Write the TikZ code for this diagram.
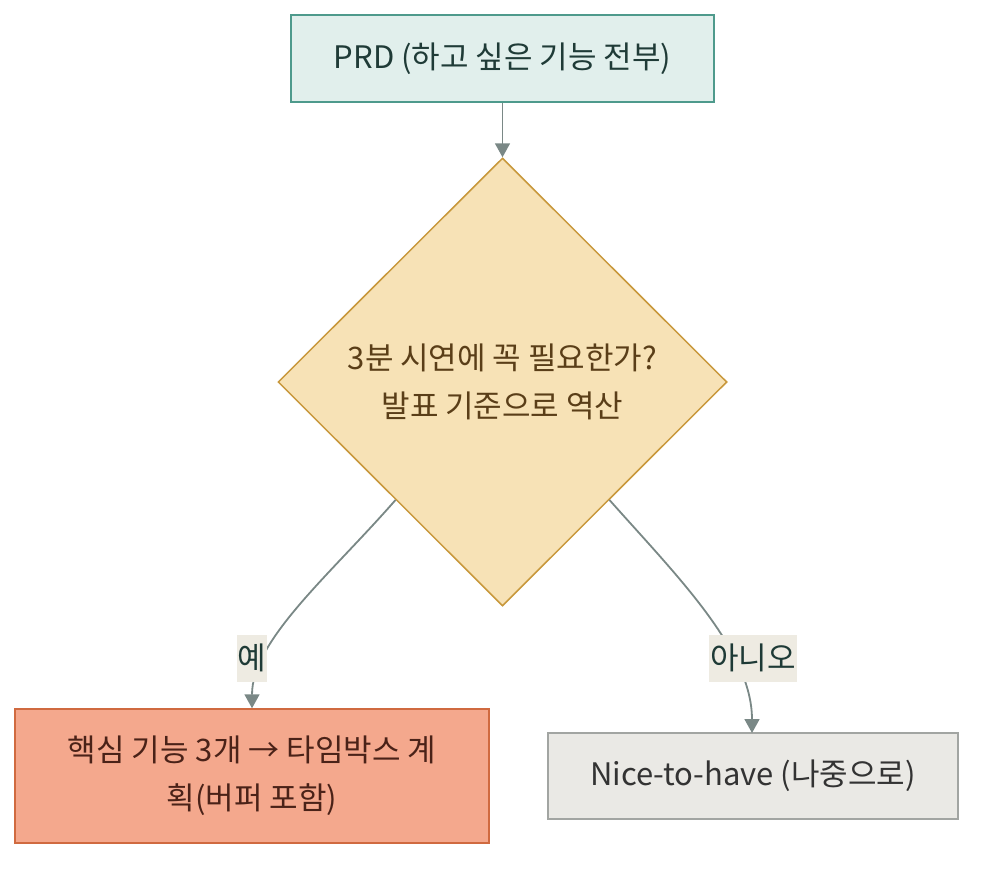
\documentclass[tikz,border=0pt]{standalone}
\usepackage{fontspec}
\setmainfont{Noto Sans CJK KR}
\usetikzlibrary{shapes.geometric,arrows.meta,calc}
\definecolor{prdfill}{HTML}{E1EFEC}
\definecolor{prdline}{HTML}{4E9A8C}
\definecolor{prdtext}{HTML}{1F3B37}
\definecolor{decfill}{HTML}{F7E2B6}
\definecolor{decline}{HTML}{C8983C}
\definecolor{dectext}{HTML}{5A3E18}
\definecolor{yesfill}{HTML}{F4A88D}
\definecolor{yesline}{HTML}{D06A40}
\definecolor{yestext}{HTML}{4A2218}
\definecolor{nofill}{HTML}{EAE9E5}
\definecolor{noline}{HTML}{A2A5A2}
\definecolor{notext}{HTML}{333333}
\definecolor{edgecol}{HTML}{7A8886}
\definecolor{lblfill}{HTML}{EEEBE2}
\definecolor{lbltext}{HTML}{1E3A36}
\tikzset{
  x=1pt, y=-1pt,
  every node/.style={font=\fontsize{31pt}{48pt}\selectfont, align=center, inner sep=0pt},
  boxstyle/.style={draw, line width=1.5pt, rectangle},
  edgestyle/.style={draw=edgecol, line width=1.8pt, -{Triangle[width=15pt,length=14pt]}},
  lblstyle/.style={fill=lblfill, text=lbltext, minimum height=47pt, inner xsep=1pt},
}
\begin{document}
\begin{tikzpicture}
\useasboundingbox (0,0) rectangle (990,872);
\node[boxstyle, fill=prdfill, draw=prdline, text=prdtext, minimum width=423pt, minimum height=87pt] (prd) at (502.5,58.5) {PRD (하고 싶은 기능 전부)};
\node[shape=diamond, draw=decline, line width=1.5pt, fill=decfill, text=dectext, minimum width=449pt, minimum height=448pt] (dec) at (502.5,382) {3분 시연에 꼭 필요한가?\\발표 기준으로 역산};
\node[boxstyle, fill=yesfill, draw=yesline, text=yestext, minimum width=474pt, minimum height=134pt] (yes) at (252,776) {핵심 기능 3개 → 타임박스 계\\획(버퍼 포함)};
\node[boxstyle, fill=nofill, draw=noline, text=notext, minimum width=410pt, minimum height=86pt] (no) at (753,776) {Nice-to-have (나중으로)};
\draw[edgestyle] (prd.south) -- (dec.north);
\draw[edgestyle] ($(dec.west)!0.525!(dec.south)$) .. controls (330,575) and (252,640) .. (yes.north);
\draw[edgestyle] ($(dec.east)!0.525!(dec.south)$) .. controls (676,575) and (752,650) .. (752,733);
\node[lblstyle] (ly) at (252,658) {예};
\node[lblstyle] (ln) at (753,658) {아니오};
\end{tikzpicture}
\end{document}
